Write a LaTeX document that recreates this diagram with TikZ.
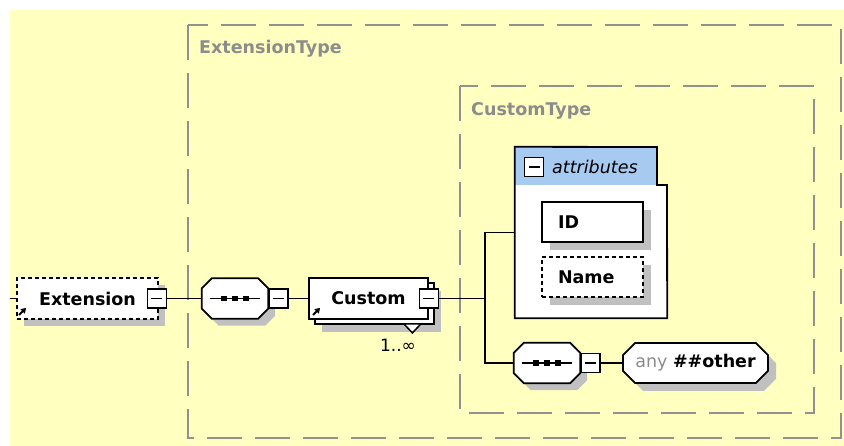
\documentclass[tikz,border=0pt]{standalone}
\usepackage{fontspec}
\setmainfont{DejaVu Sans}
\usetikzlibrary{shapes.misc,shadows,positioning,arrows.meta}
\definecolor{bgyellow}{RGB}{255,255,192}
\definecolor{framegray}{RGB}{145,145,145}
\definecolor{labelgray}{RGB}{140,140,140}
\definecolor{shadowgray}{RGB}{192,192,192}
\definecolor{headblue}{RGB}{166,202,240}

\newcommand{\octshape}[2]{([xshift=#2]#1.north west) -- ([xshift=-#2]#1.north east) -- ([yshift=-#2]#1.north east) -- ([yshift=#2]#1.south east) -- ([xshift=-#2]#1.south east) -- ([xshift=#2]#1.south west) -- ([yshift=#2]#1.south west) -- ([yshift=-#2]#1.north west) -- cycle}
\newcommand{\seqmark}[1]{%
	\fill[shadowgray,transform canvas={shift={(7pt,-7pt)}}] \octshape{#1}{10pt};
	\filldraw[fill=white,line width=1.8pt] \octshape{#1}{10pt};
	\draw[line width=1.6pt] ([xshift=8pt]#1.west) -- ([xshift=-8pt]#1.east);
	\foreach \d in {-11pt,0pt,11pt}
		\fill ([xshift=\d]#1.center) +(-2.6,-2.6) rectangle +(2.6,2.6);
}

\begin{document}
\begin{tikzpicture}[x=1pt,y=-1pt,
		frame/.style={draw=framegray,line width=2pt,dash pattern=on 35pt off 13pt},
		framelabel/.style={anchor=west,inner sep=0,text=labelgray,font=\bfseries\fontsize{17.5}{20}\selectfont},
		boxshadow/.style={drop shadow={shadow xshift=#1,shadow yshift=-#1,fill=shadowgray,opacity=1}},
		elem/.style={draw,fill=white,line width=1.8pt,inner sep=0,minimum height=41pt,font=\bfseries\fontsize{17.5}{20}\selectfont},
		optional/.style={dash pattern=on 4pt off 3pt},
		seqbox/.style={inner sep=0,minimum width=66pt,minimum height=40pt},
		anybox/.style={chamfered rectangle,chamfered rectangle xsep=9pt,draw,fill=white,line width=1.8pt,inner sep=0,minimum height=40pt},
		collapse/.style={draw,fill=white,line width=1.3pt,inner sep=0,minimum size=19pt,
			path picture={\draw[line width=1.6pt] ([xshift=4pt]path picture bounding box.west) -- ([xshift=-4pt]path picture bounding box.east);}},
		link/.style={line width=1.8pt},
		refmark/.style={-{Triangle[length=5pt,width=6pt]},line width=1.8pt}
	]
	\path[use as bounding box] (0,0) rectangle (844,446);
	\fill[bgyellow] (10,10) rectangle (844,446);

	\draw[frame] (188,25) rectangle (841,438);
	\node[framelabel] (exttype) at (199,49) {ExtensionType};
	\draw[frame] (460,86) rectangle (814,413);
	\node[framelabel] (custtype) at (471,111) {CustomType};

	\coordinate (in) at (10,298.5);
	\node[elem,optional,boxshadow=7pt,minimum width=141pt] (ext) at (87.5,298.5) {Extension\hspace{10pt}};
	\node[collapse] (extm) at ([xshift=-2pt]ext.east) {};
	\draw[refmark] ([shift={(3,-5)}]ext.south west) -- ++(7,-7);

	\node[seqbox] (seq1) at (235,298.5) {};
	\seqmark{seq1}
	\node[collapse,right=0pt of seq1] (seq1m) {};

	\node[elem,minimum width=119pt,boxshadow=13pt,
		general shadow={shadow xshift=6pt,shadow yshift=-5pt,draw=black,fill=white,line width=1.8pt}] (cust) at (368.5,298.5) {Custom\hspace{6pt}};
	\draw[line width=1.5pt,fill=white] ([shift={(-25,4)}]cust.south east) -- ++(17,0) -- ++(-8.5,9) -- cycle;
	\draw[refmark] ([shift={(5,-5)}]cust.south west) -- ++(7,-7);
	\node[collapse] (custm) at (cust.east) {};
	\node[font=\fontsize{17}{20}\selectfont,inner sep=0] (custocc) at (398,345) {1..∞};

	\coordinate (fork) at (485,298.5);
	\node[minimum width=152pt,minimum height=171pt,inner sep=0] (attr) at (591,232.5) {};
	\fill[white] (515,185) rectangle (attr.south east);
	\fill[headblue] (attr.north west) rectangle (657,185);
	\draw[line width=1.8pt] (attr.north west) -- (657,147) -- (657,185) -- (667,185) -- (attr.south east) -- (attr.south west) -- cycle;
	\node[collapse] (attrm) at (534,167) {};
	\node[anchor=west,inner sep=0,font=\itshape\fontsize{17.5}{20}\selectfont] (attrlabel) at (552,167) {attributes};

	\node[elem,boxshadow=8pt,minimum height=40pt,text width=69pt,align=left,inner xsep=16pt] (id) at (592.5,222) {ID};
	\node[elem,optional,boxshadow=8pt,minimum height=40pt,text width=69pt,align=left,inner xsep=16pt] (name) at (592.5,277) {Name};

	\node[seqbox] (seq2) at (547,363) {};
	\seqmark{seq2}
	\node[collapse,right=0pt of seq2] (seq2m) {};
	\node[anybox,minimum width=145pt,boxshadow=8pt,font=\fontsize{17.5}{20}\selectfont] (anyel) at (695.5,363) {\textcolor{labelgray}{any}\ \textbf{\#\#other}};

	\draw[link] (in) -- (ext.west);
	\draw[link] (extm.east) -- (seq1.west);
	\draw[link] (seq1m.east) -- (cust.west);
	\draw[link] (custm.east) -- (fork);
	\draw[link] (attr.west) -| (fork) |- (seq2.west);
	\draw[link] (seq2m.east) -- (anyel.west);
\end{tikzpicture}
\end{document}
